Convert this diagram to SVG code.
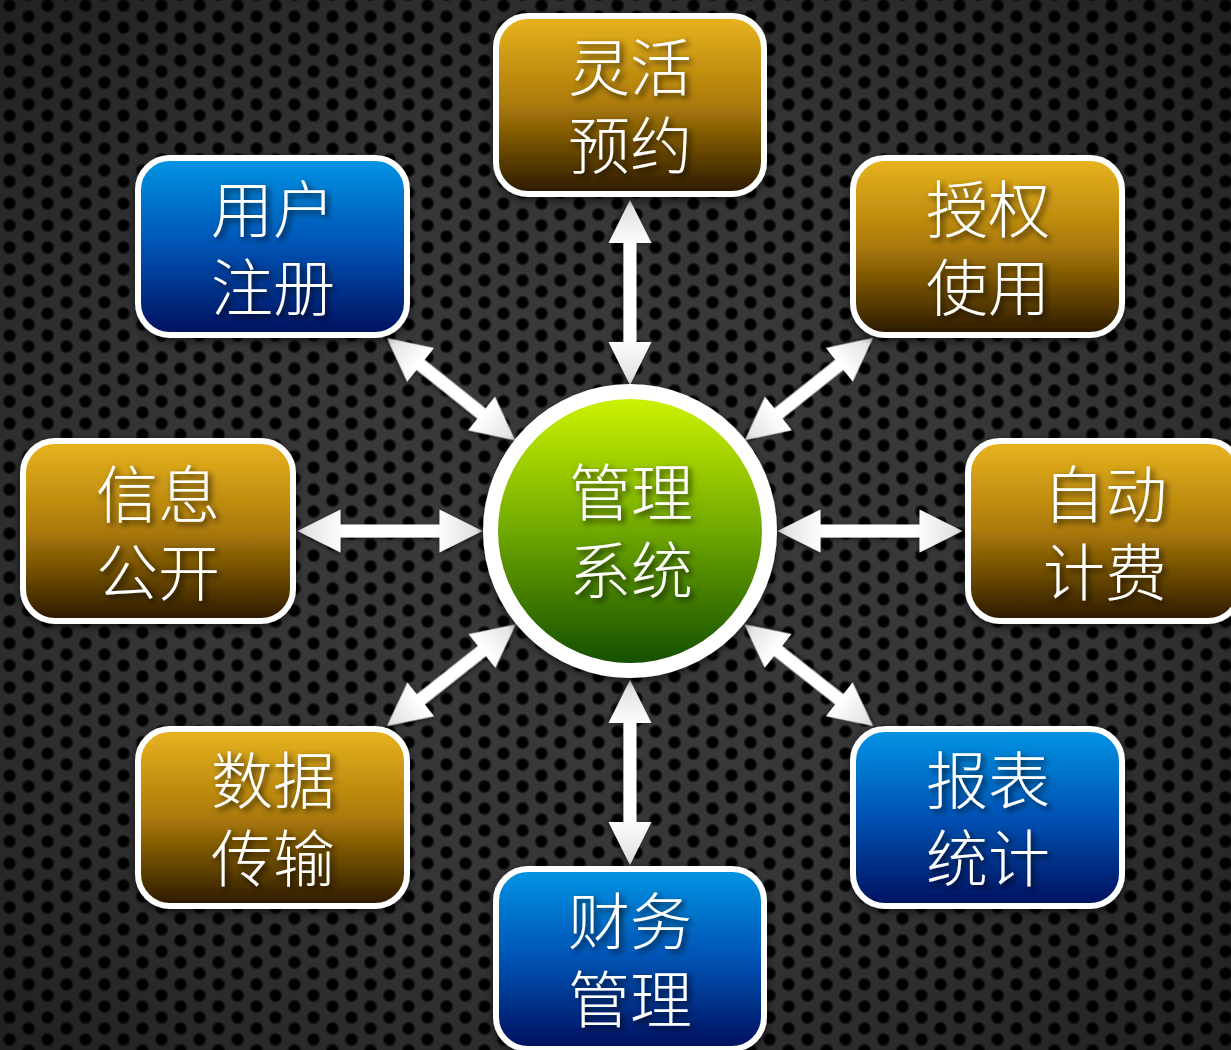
<svg xmlns="http://www.w3.org/2000/svg" xmlns:xlink="http://www.w3.org/1999/xlink" width="1231" height="1050" viewBox="0 0 1231 1050">
  <style>
    .lbl { font-family: "Liberation Sans", "Noto Sans CJK SC", sans-serif; font-size: 62px; font-weight: 300; fill: #ffffff; text-anchor: middle; filter: url(#txtShadow); }
    .box { stroke: #ffffff; stroke-width: 6; filter: url(#boxShadow); }
    .gold { fill: url(#goldGrad); }
    .blue { fill: url(#blueGrad); }
    .arrow { fill: url(#arrowGrad); filter: url(#arrowShadow); }
  </style>
  <defs>
    <radialGradient id="holeGrad">
      <stop offset="0" stop-color="#000000"/>
      <stop offset="0.6" stop-color="#000000"/>
      <stop offset="1" stop-color="#000000" stop-opacity="0"/>
    </radialGradient>
    <pattern id="holes" width="38" height="22" patternUnits="userSpaceOnUse">
      <circle cx="9.5" cy="5.5" r="7.5" fill="url(#holeGrad)"/>
      <circle cx="28.5" cy="16.5" r="7.5" fill="url(#holeGrad)"/>
      <circle cx="28.5" cy="-5.5" r="7.5" fill="url(#holeGrad)"/>
      <circle cx="9.5" cy="27.5" r="7.5" fill="url(#holeGrad)"/>
    </pattern>
    <radialGradient id="vignette" cx="0.5" cy="0.5" r="0.75">
      <stop offset="0" stop-color="#000000" stop-opacity="0"/>
      <stop offset="0.5" stop-color="#000000" stop-opacity="0.1"/>
      <stop offset="1" stop-color="#000000" stop-opacity="0.5"/>
    </radialGradient>
    <linearGradient id="goldGrad" x1="0" y1="0" x2="0" y2="1">
      <stop offset="0" stop-color="#e9b41f"/>
      <stop offset="0.5" stop-color="#ab7a08"/>
      <stop offset="1" stop-color="#2a1800"/>
    </linearGradient>
    <linearGradient id="blueGrad" x1="0" y1="0" x2="0" y2="1">
      <stop offset="0" stop-color="#0795e4"/>
      <stop offset="0.5" stop-color="#0052b4"/>
      <stop offset="1" stop-color="#00105e"/>
    </linearGradient>
    <linearGradient id="greenGrad" x1="0" y1="0" x2="0" y2="1">
      <stop offset="0" stop-color="#ccf200"/>
      <stop offset="0.5" stop-color="#6fa800"/>
      <stop offset="1" stop-color="#145000"/>
    </linearGradient>
    <linearGradient id="arrowGrad" x1="0" y1="0" x2="1" y2="0">
      <stop offset="0" stop-color="#dcdcdc"/>
      <stop offset="0.25" stop-color="#ffffff"/>
      <stop offset="0.75" stop-color="#ffffff"/>
      <stop offset="1" stop-color="#dcdcdc"/>
    </linearGradient>
    <filter id="txtShadow" x="-20%" y="-20%" width="140%" height="140%">
      <feDropShadow dx="3" dy="3" stdDeviation="3" flood-color="#000000" flood-opacity="0.75"/>
    </filter>
    <filter id="boxShadow" x="-10%" y="-10%" width="120%" height="125%">
      <feDropShadow dx="0" dy="3" stdDeviation="4" flood-color="#000000" flood-opacity="0.6"/>
    </filter>
    <filter id="arrowShadow" x="-20%" y="-50%" width="140%" height="200%">
      <feDropShadow dx="0" dy="2" stdDeviation="2" flood-color="#000000" flood-opacity="0.5"/>
    </filter>
    <path id="arrowLong" d="M0,0 L43,-21.5 L43,-6.5 L142,-6.5 L142,-21.5 L185,0 L142,21.5 L142,6.5 L43,6.5 L43,21.5 Z"/>
    <path id="arrowDiag" d="M0,0 L43,-21.5 L43,-6.5 L121,-6.5 L121,-21.5 L164,0 L121,21.5 L121,6.5 L43,6.5 L43,21.5 Z"/>
  </defs>

  <!-- background -->
  <rect width="1231" height="1050" fill="#3b3b3e"/>
  <rect width="1231" height="1050" fill="url(#holes)"/>
  <rect width="1231" height="1050" fill="url(#vignette)"/>

  <!-- connectors -->
  <g id="connectors">
    <use href="#arrowLong" class="arrow" transform="translate(630,200) rotate(90)"/>
    <use href="#arrowLong" class="arrow" transform="translate(630,680) rotate(90)"/>
    <use href="#arrowLong" class="arrow" transform="translate(297.5,531)"/>
    <use href="#arrowLong" class="arrow" transform="translate(777.5,531)"/>
    <use href="#arrowDiag" class="arrow" transform="translate(387,338) rotate(38.6)"/>
    <use href="#arrowDiag" class="arrow" transform="translate(873,338) rotate(141.4)"/>
    <use href="#arrowDiag" class="arrow" transform="translate(387,726) rotate(-38.3)"/>
    <use href="#arrowDiag" class="arrow" transform="translate(873,726) rotate(-141.7)"/>
  </g>

  <!-- center node -->
  <g id="node-center">
    <circle cx="630" cy="531" r="147" fill="#ffffff" filter="url(#boxShadow)"/>
    <circle cx="630" cy="531" r="132" fill="url(#greenGrad)"/>
    <text class="lbl" x="631" y="516">管理<tspan x="631" dy="78">系统</tspan></text>
  </g>

  <g id="node-lhyy">
    <rect class="box gold" x="496" y="16" width="268" height="178" rx="32"/>
    <text class="lbl" x="630" y="91">灵活<tspan x="630" dy="78">预约</tspan></text>
  </g>

  <g id="node-yhzc">
    <rect class="box blue" x="138" y="158" width="269" height="177" rx="32"/>
    <text class="lbl" x="273" y="233">用户<tspan x="273" dy="78">注册</tspan></text>
  </g>

  <g id="node-sqsy">
    <rect class="box gold" x="853" y="158" width="269" height="177" rx="32"/>
    <text class="lbl" x="988" y="233">授权<tspan x="988" dy="78">使用</tspan></text>
  </g>

  <g id="node-xxgk">
    <rect class="box gold" x="23" y="441" width="270" height="180" rx="32"/>
    <text class="lbl" x="158" y="518">信息<tspan x="158" dy="78">公开</tspan></text>
  </g>

  <g id="node-zdjf">
    <rect class="box gold" x="968" y="441" width="272" height="180" rx="32"/>
    <text class="lbl" x="1105" y="518">自动<tspan x="1105" dy="78">计费</tspan></text>
  </g>

  <g id="node-sjcs">
    <rect class="box gold" x="138" y="729" width="269" height="177" rx="32"/>
    <text class="lbl" x="273" y="804">数据<tspan x="273" dy="78">传输</tspan></text>
  </g>

  <g id="node-bbtj">
    <rect class="box blue" x="853" y="729" width="269" height="177" rx="32"/>
    <text class="lbl" x="988" y="804">报表<tspan x="988" dy="78">统计</tspan></text>
  </g>

  <g id="node-cwgl">
    <rect class="box blue" x="496" y="869" width="268" height="180" rx="32"/>
    <text class="lbl" x="630" y="945">财务<tspan x="630" dy="78">管理</tspan></text>
  </g>
</svg>
